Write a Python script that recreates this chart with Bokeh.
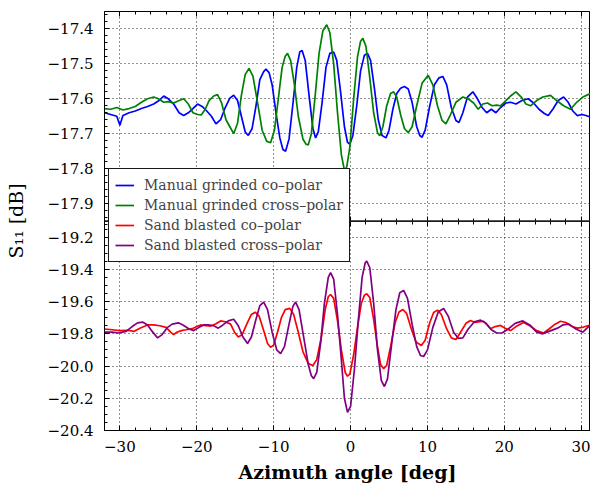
from bokeh.plotting import figure
from bokeh.models import (Range1d, LinearAxis, FixedTicker, CustomJSTickFormatter,
                          Grid, Span, Legend, LegendItem)
from bokeh.embed import file_html
from bokeh.resources import INLINE

# ---------------- data ----------------
x_ticks = [-30, -20, -10, 0, 10, 20, 30]
top_ticks = [-17.9, -17.8, -17.7, -17.6, -17.5, -17.4]
bot_ticks = [-20.4, -20.2, -20.0, -19.8, -19.6, -19.4, -19.2]

labels = ["Manual grinded co\u2013polar", "Manual grinded cross\u2013polar",
          "Sand blasted co\u2013polar", "Sand blasted cross\u2013polar"]

mg_co_x = [-32.0,-31.2,-30.4,-30.0,-29.6,-28.8,-28.0,-27.2,-26.4,-25.6,-24.9,-24.3,-23.7,-23.0,-22.3,-21.7,-21.1,-20.5,-19.9,-19.3,-18.7,-18.1,-17.5,-16.9,-16.3,-15.7,-15.2,-14.7,-14.2,-13.7,-13.3,-12.8,-12.3,-11.8,-11.3,-11.0,-10.6,-10.2,-9.7,-9.2,-8.8,-8.45,-8.0,-7.5,-7.0,-6.6,-6.3,-5.9,-5.4,-4.9,-4.55,-4.2,-3.7,-3.2,-2.7,-2.2,-1.8,-1.3,-0.8,-0.4,-0.1,0.3,0.8,1.3,1.8,2.2,2.6,3.1,3.6,4.1,4.6,5.0,5.5,6.0,6.5,7.0,7.5,8.0,8.6,9.0,9.3,9.7,10.3,10.9,11.5,12.0,12.5,13.1,13.7,14.1,14.6,15.2,15.9,16.5,17.1,17.7,18.3,18.9,19.5,20.2,20.8,21.5,22.3,23.1,23.8,24.5,25.2,25.7,26.3,27.0,27.7,28.3,28.9,29.5,30.1,30.6,31.2]
mg_co_y = [-17.640,-17.645,-17.650,-17.676,-17.648,-17.640,-17.635,-17.628,-17.622,-17.615,-17.605,-17.592,-17.600,-17.615,-17.640,-17.648,-17.640,-17.628,-17.615,-17.622,-17.635,-17.650,-17.672,-17.660,-17.625,-17.598,-17.590,-17.605,-17.650,-17.695,-17.705,-17.685,-17.620,-17.545,-17.522,-17.515,-17.525,-17.560,-17.640,-17.712,-17.745,-17.750,-17.715,-17.615,-17.510,-17.465,-17.462,-17.490,-17.590,-17.685,-17.712,-17.695,-17.610,-17.510,-17.470,-17.466,-17.490,-17.580,-17.680,-17.725,-17.730,-17.705,-17.620,-17.520,-17.475,-17.470,-17.490,-17.570,-17.660,-17.705,-17.712,-17.690,-17.630,-17.585,-17.570,-17.565,-17.572,-17.610,-17.680,-17.705,-17.710,-17.690,-17.620,-17.560,-17.540,-17.536,-17.560,-17.625,-17.662,-17.668,-17.640,-17.595,-17.580,-17.600,-17.625,-17.640,-17.630,-17.640,-17.625,-17.612,-17.610,-17.615,-17.605,-17.600,-17.612,-17.630,-17.642,-17.648,-17.630,-17.605,-17.595,-17.610,-17.635,-17.648,-17.645,-17.648,-17.652]

mg_cx_x = [-32.0,-31.2,-30.4,-29.6,-28.8,-28.0,-27.2,-26.4,-25.6,-25.0,-24.3,-23.7,-23.0,-22.3,-21.7,-21.1,-20.5,-19.9,-19.4,-18.9,-18.4,-17.8,-17.3,-16.8,-16.2,-15.7,-15.2,-14.7,-14.2,-13.7,-13.2,-12.7,-12.1,-11.5,-10.9,-10.4,-9.9,-9.4,-8.9,-8.5,-8.2,-7.8,-7.3,-6.8,-6.2,-5.8,-5.5,-5.1,-4.6,-4.1,-3.6,-3.1,-2.7,-2.2,-1.7,-1.2,-0.8,-0.5,-0.1,0.4,0.9,1.3,1.6,2.0,2.5,3.0,3.5,3.8,4.2,4.7,5.2,5.6,6.0,6.5,7.0,7.5,8.0,8.6,9.3,10.1,10.7,11.3,11.9,12.4,13.0,13.7,14.6,15.3,16.0,16.6,17.2,17.8,18.4,19.0,19.5,20.2,20.8,21.5,22.2,22.8,23.4,24.2,25.0,26.0,26.8,27.7,28.6,29.4,30.2,31.2]
mg_cx_y = [-17.628,-17.630,-17.625,-17.632,-17.628,-17.622,-17.610,-17.600,-17.595,-17.600,-17.610,-17.608,-17.612,-17.605,-17.600,-17.615,-17.640,-17.645,-17.646,-17.630,-17.605,-17.592,-17.588,-17.610,-17.660,-17.680,-17.700,-17.670,-17.590,-17.530,-17.513,-17.535,-17.610,-17.690,-17.722,-17.726,-17.690,-17.600,-17.510,-17.478,-17.470,-17.490,-17.560,-17.650,-17.715,-17.730,-17.732,-17.700,-17.590,-17.470,-17.405,-17.388,-17.410,-17.500,-17.640,-17.760,-17.805,-17.795,-17.740,-17.600,-17.480,-17.435,-17.427,-17.450,-17.540,-17.640,-17.697,-17.706,-17.680,-17.620,-17.585,-17.580,-17.595,-17.645,-17.685,-17.697,-17.680,-17.620,-17.555,-17.533,-17.560,-17.620,-17.662,-17.672,-17.645,-17.610,-17.595,-17.600,-17.612,-17.630,-17.615,-17.612,-17.620,-17.618,-17.620,-17.605,-17.592,-17.580,-17.595,-17.615,-17.620,-17.605,-17.595,-17.590,-17.605,-17.620,-17.630,-17.610,-17.595,-17.585]

sb_co_x = [-32.0,-31.0,-30.0,-29.0,-28.2,-27.4,-26.4,-25.6,-24.8,-24.0,-23.4,-23.0,-22.6,-22.0,-21.4,-20.6,-20.0,-19.5,-18.8,-18.2,-17.5,-16.9,-16.3,-15.6,-15.1,-14.6,-14.1,-13.5,-12.9,-12.4,-11.9,-11.3,-10.8,-10.4,-10.0,-9.5,-9.0,-8.5,-7.9,-7.4,-6.8,-6.2,-5.5,-4.9,-4.4,-3.8,-3.3,-2.9,-2.6,-2.2,-1.7,-1.2,-0.7,-0.4,-0.1,0.4,0.9,1.4,1.8,2.1,2.5,3.0,3.5,3.9,4.3,4.7,5.2,5.8,6.3,6.8,7.3,7.9,8.5,9.2,9.7,10.3,10.8,11.3,11.8,12.5,13.1,13.7,14.3,15.0,15.6,16.2,16.8,17.3,17.8,18.2,18.8,19.5,20.1,20.8,21.5,22.5,23.3,24.2,25.1,25.8,26.6,27.3,28.0,28.8,29.5,30.3,31.2]
sb_co_y = [-19.770,-19.775,-19.780,-19.778,-19.785,-19.765,-19.745,-19.745,-19.750,-19.760,-19.790,-19.805,-19.790,-19.780,-19.775,-19.768,-19.755,-19.745,-19.750,-19.752,-19.738,-19.720,-19.725,-19.740,-19.790,-19.820,-19.805,-19.740,-19.680,-19.666,-19.690,-19.780,-19.860,-19.883,-19.870,-19.790,-19.700,-19.650,-19.642,-19.680,-19.790,-19.910,-19.985,-19.997,-19.960,-19.820,-19.650,-19.570,-19.556,-19.580,-19.720,-19.900,-20.040,-20.063,-20.050,-19.930,-19.760,-19.610,-19.560,-19.552,-19.575,-19.710,-19.880,-19.990,-20.017,-19.995,-19.880,-19.730,-19.665,-19.649,-19.675,-19.770,-19.850,-19.873,-19.840,-19.730,-19.668,-19.653,-19.680,-19.770,-19.825,-19.835,-19.790,-19.735,-19.717,-19.730,-19.725,-19.722,-19.745,-19.768,-19.755,-19.748,-19.765,-19.780,-19.755,-19.730,-19.750,-19.780,-19.795,-19.770,-19.740,-19.722,-19.730,-19.755,-19.765,-19.758,-19.745]

sb_cx_x = [-32.0,-31.0,-30.2,-29.2,-28.4,-27.7,-27.0,-26.4,-25.8,-25.1,-24.5,-23.8,-23.2,-22.4,-21.8,-21.0,-20.4,-19.7,-19.1,-18.5,-17.8,-17.2,-16.6,-15.9,-15.2,-14.6,-14.0,-13.4,-12.9,-12.3,-11.8,-11.3,-10.8,-10.2,-9.6,-9.1,-8.6,-8.0,-7.5,-7.15,-6.7,-6.1,-5.5,-5.1,-4.8,-4.4,-3.9,-3.4,-2.9,-2.6,-2.2,-1.7,-1.2,-0.8,-0.4,0.0,0.5,1.0,1.5,1.9,2.1,2.5,3.0,3.5,4.0,4.4,4.8,5.3,5.9,6.4,6.9,7.4,8.0,8.6,9.1,9.5,10.0,10.7,11.4,12.1,12.7,13.4,14.0,14.6,15.3,16.1,16.9,17.6,18.3,19.0,19.7,20.5,21.4,22.4,23.3,24.2,25.0,25.8,26.9,27.6,28.4,29.3,30.2,31.2]
sb_cx_y = [-19.790,-19.790,-19.795,-19.785,-19.755,-19.732,-19.728,-19.745,-19.785,-19.825,-19.805,-19.760,-19.740,-19.732,-19.745,-19.770,-19.780,-19.760,-19.745,-19.745,-19.750,-19.765,-19.745,-19.720,-19.710,-19.750,-19.820,-19.860,-19.820,-19.710,-19.625,-19.604,-19.650,-19.790,-19.900,-19.923,-19.880,-19.740,-19.630,-19.603,-19.650,-19.820,-19.990,-20.060,-20.078,-20.040,-19.860,-19.610,-19.450,-19.420,-19.460,-19.680,-19.960,-20.200,-20.287,-20.250,-20.020,-19.720,-19.450,-19.360,-19.349,-19.390,-19.610,-19.900,-20.090,-20.127,-20.080,-19.880,-19.650,-19.545,-19.531,-19.580,-19.740,-19.880,-19.935,-19.941,-19.900,-19.760,-19.665,-19.643,-19.690,-19.790,-19.828,-19.825,-19.770,-19.725,-19.715,-19.735,-19.775,-19.795,-19.795,-19.770,-19.735,-19.720,-19.745,-19.790,-19.800,-19.785,-19.765,-19.745,-19.740,-19.770,-19.790,-19.745]

colors = ["#0000ff", "#008000", "#ff0000", "#800080"]

# ---------------- layout / ranges ----------------
FONT = "DejaVu Serif"
X0, X1 = -32.0, 31.2
T0, T1 = -17.95, -17.35     # upper panel
B0, B1 = -20.4, -19.1       # lower panel
Y0 = T0 - (T1 - T0)         # bottom of the shared (upper) y range
K = (T1 - T0) / (B1 - B0)   # lower-panel value -> shared axis coordinate scale

def to_shared(v):
    return Y0 + (v - B0) * K

x_minor = [v for v in range(-32, 32, 2)]
top_minor = [round(-17.96 + 0.02 * i, 2) for i in range(0, 31)]
bot_minor = [round(-20.4 + 0.05 * i, 2) for i in range(0, 27)]

p = figure(width=590, height=494, output_backend="svg", toolbar_location=None,
           x_range=Range1d(X0, X1), y_range=Range1d(Y0, T1),
           min_border_left=104, min_border_right=0, min_border_top=11, min_border_bottom=64,
           background_fill_color="white", border_fill_color="white",
           outline_line_color="black", outline_line_width=1)
p.extra_y_ranges = {"bot": Range1d(B0, B1 + (B1 - B0))}

x_ticker = FixedTicker(ticks=x_ticks, minor_ticks=x_minor)
top_ticker = FixedTicker(ticks=top_ticks, minor_ticks=top_minor)
bot_ticker = FixedTicker(ticks=bot_ticks, minor_ticks=bot_minor)
# left axis shows both panels' ticks
left_ticker = FixedTicker(ticks=top_ticks + [to_shared(v) for v in bot_ticks],
                          minor_ticks=top_minor + [to_shared(v) for v in bot_minor])

fmt_x = CustomJSTickFormatter(code="return tick.toFixed(0).replace('-', '\u2212');")
fmt_left = CustomJSTickFormatter(
    args=dict(t0=T0, y0=Y0, b0=B0, k=K),
    code="""
let v = tick;
if (tick < t0 - 1e-9) { v = b0 + (tick - y0) / k; }
return v.toFixed(1).replace('-', '\u2212');
""")
fmt_none = CustomJSTickFormatter(code="return '';")

def style_axis(ax, tin=5, tout=0, mtin=3, mtout=0):
    ax.major_tick_in = tin
    ax.major_tick_out = tout
    ax.minor_tick_in = mtin
    ax.minor_tick_out = mtout
    ax.axis_line_color = "black"
    ax.major_tick_line_color = "black"
    ax.minor_tick_line_color = "black"
    ax.major_label_text_font = FONT
    ax.major_label_text_font_size = "15px"
    ax.major_label_text_color = "black"
    ax.axis_label_text_font = FONT
    ax.axis_label_text_color = "black"

# bottom x axis
xa = p.xaxis[0]
xa.ticker = x_ticker
xa.formatter = fmt_x
style_axis(xa)
xa.major_label_standoff = 10
xa.axis_label = "Azimuth angle [deg]"
xa.axis_label_text_font_size = "19px"
xa.axis_label_text_font_style = "bold"
xa.axis_label_standoff = 6

# left axis (both panels)
ya = p.yaxis[0]
ya.ticker = left_ticker
ya.formatter = fmt_left
style_axis(ya)
ya.major_label_standoff = 11
ya.axis_label = "S\u2081\u2081 [dB]"
ya.axis_label_text_font_size = "19px"
ya.axis_label_text_font_style = "normal"
ya.axis_label_standoff = 18

# top edge ticks
xt = LinearAxis(ticker=x_ticker, formatter=fmt_none, fixed_location=T1)
style_axis(xt)
p.add_layout(xt, "above")

# divider between the panels, with ticks on both sides
p.add_layout(Span(location=T0, dimension="width", line_color="#222222", line_width=1.5))
xm = LinearAxis(ticker=x_ticker, formatter=fmt_none, fixed_location=T0)
style_axis(xm, tin=5, tout=5, mtin=3, mtout=3)
p.add_layout(xm, "below")

# grids
for g in (p.xgrid[0], p.ygrid[0]):
    g.grid_line_color = "black"
    g.grid_line_alpha = 0.85
    g.grid_line_dash = "1 3"
    g.grid_line_width = 1
p.xgrid[0].ticker = x_ticker
p.ygrid[0].ticker = top_ticker
gb = Grid(dimension=1, ticker=bot_ticker, y_range_name="bot",
          grid_line_color="black", grid_line_alpha=0.85, grid_line_dash="1 3", grid_line_width=1)
p.add_layout(gb)

# curves
r1 = p.line(mg_co_x, mg_co_y, line_color=colors[0], line_width=1.7)
r2 = p.line(mg_cx_x, mg_cx_y, line_color=colors[1], line_width=1.7)
r3 = p.line(sb_co_x, sb_co_y, line_color=colors[2], line_width=1.7, y_range_name="bot")
r4 = p.line(sb_cx_x, sb_cx_y, line_color=colors[3], line_width=1.7, y_range_name="bot")

legend = Legend(items=[LegendItem(label=labels[i], renderers=[r]) for i, r in enumerate([r1, r2, r3, r4])],
                location=(4, 168), label_text_font=FONT, label_text_font_size="14px",
                label_height=20, glyph_height=20, glyph_width=19, label_standoff=10,
                padding=6, spacing=0, margin=0,
                border_line_color="black", border_line_width=1, border_line_alpha=0.9,
                background_fill_color="white", background_fill_alpha=1.0)
p.add_layout(legend)

open("out.html", "w").write(file_html(p, INLINE))
